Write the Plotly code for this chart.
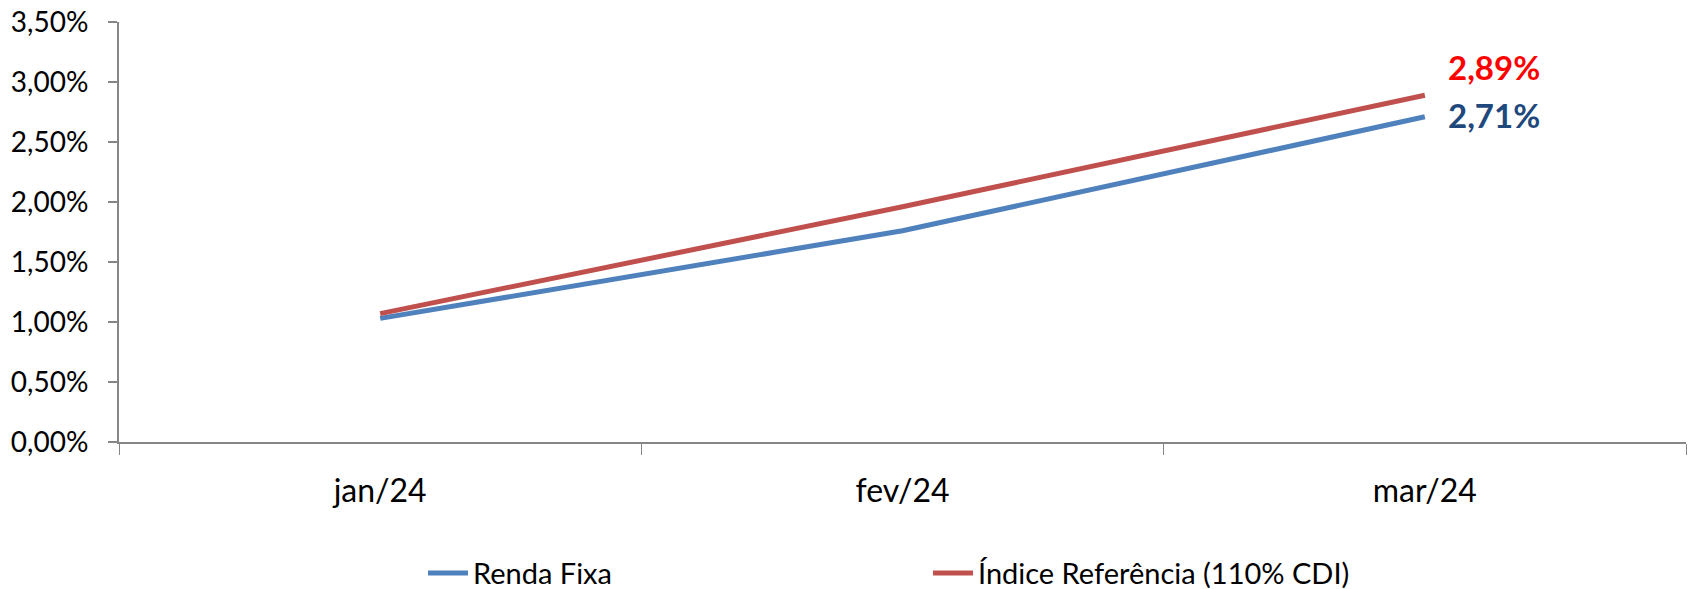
import plotly.graph_objects as go

categories = ["jan/24", "fev/24", "mar/24"]
renda_fixa = [1.03, 1.76, 2.71]
indice_ref = [1.07, 1.96, 2.89]
series_names = ["Renda Fixa", "Índice Referência (110% CDI)"]

FONT = "Lato"

fig = go.Figure()
fig.add_trace(go.Scatter(x=categories, y=renda_fixa, mode="lines", name=series_names[0],
                         line=dict(color="#4F81BD", width=5)))
fig.add_trace(go.Scatter(x=categories, y=indice_ref, mode="lines", name=series_names[1],
                         line=dict(color="#C0504D", width=5)))

def fmt(v):
    return f"{v:.2f}".replace(".", ",") + "%"

fig.add_annotation(x=categories[-1], y=indice_ref[-1], text="<b>" + fmt(indice_ref[-1]) + "</b>",
                   showarrow=False, xanchor="left", yanchor="middle", xshift=21, yshift=28,
                   font=dict(family=FONT, size=33, color="#FF0000"))
fig.add_annotation(x=categories[-1], y=renda_fixa[-1], text="<b>" + fmt(renda_fixa[-1]) + "</b>",
                   showarrow=False, xanchor="left", yanchor="middle", xshift=21, yshift=2,
                   font=dict(family=FONT, size=33, color="#1F497D"))

fig.update_layout(
    width=1692, height=589,
    margin=dict(l=119, r=6, t=22, b=147, autoexpand=False),
    paper_bgcolor="white", plot_bgcolor="white",
    separators=",.",
    font=dict(family=FONT, size=28, color="black"),
    showlegend=True,
    legend=dict(orientation="h", x=0.194, xanchor="left", xref="paper",
                y=0.027, yanchor="middle", yref="container",
                font=dict(family=FONT, size=29, color="black"),
                entrywidth=450, entrywidthmode="pixels", itemwidth=40, tracegroupgap=0),
    xaxis=dict(type="category", range=[-0.5, 2.5], showgrid=False, showline=True,
               linecolor="#868686", linewidth=2, ticks="outside", tickson="boundaries",
               ticklen=11, tickcolor="#868686", tickwidth=1, ticklabelstandoff=20,
               automargin=False, tickfont=dict(family=FONT, size=32)),
    yaxis=dict(range=[0, 3.5], dtick=0.5, tick0=0, showgrid=False, showline=True,
               linecolor="#868686", linewidth=2, ticks="outside", ticklen=9,
               tickcolor="#868686", tickwidth=1.5, tickformat=".2f", ticksuffix="%",
               zeroline=False, automargin=False, ticklabelstandoff=14,
               tickfont=dict(family=FONT, size=28)),
)

fig.write_html(
    "out.html",
    config={"displayModeBar": False},
    post_script="document.body.style.margin='0';document.body.style.overflow='hidden';",
)
